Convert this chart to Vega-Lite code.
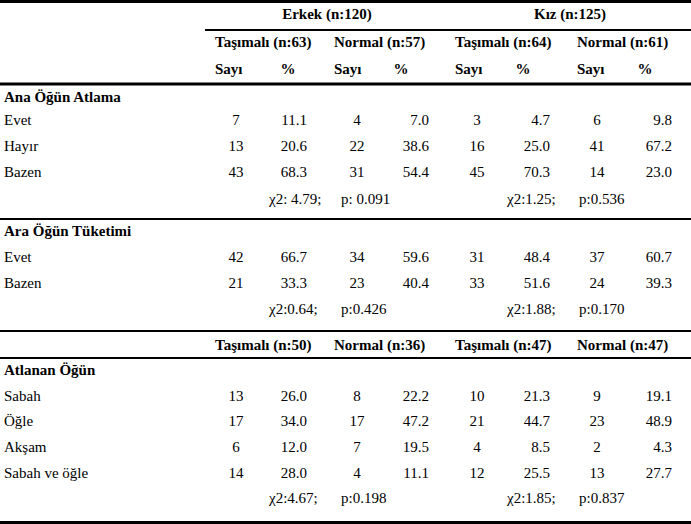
{
  "$schema": "https://vega.github.io/schema/vega-lite/v6.json",
  "width": 691,
  "height": 524,
  "padding": 0,
  "autosize": {"type": "none"},
  "config": {"view": {"stroke": null}, "font": "Liberation Serif", "text": {"font": "Liberation Serif", "fontSize": 15, "color": "#000000", "baseline": "middle"}},
  "datasets": {
    "cells": [
      {"r": 0, "kind": "group", "c": 1, "t": "Erkek (n:120)"},
      {"r": 0, "kind": "group", "c": 2, "t": "Kız (n:125)"},
      {"r": 1, "kind": "sub", "c": 1, "t": "Taşımalı (n:63)"},
      {"r": 1, "kind": "sub", "c": 2, "t": "Normal (n:57)"},
      {"r": 1, "kind": "sub", "c": 3, "t": "Taşımalı (n:64)"},
      {"r": 1, "kind": "sub", "c": 4, "t": "Normal (n:61)"},
      {"r": 2, "kind": "sub", "c": 1, "t": "Sayı"},
      {"r": 2, "kind": "sub", "c": 2, "t": "Sayı"},
      {"r": 2, "kind": "sub", "c": 3, "t": "Sayı"},
      {"r": 2, "kind": "sub", "c": 4, "t": "Sayı"},
      {"r": 2, "kind": "pcthead", "c": 1, "t": "%"},
      {"r": 2, "kind": "pcthead", "c": 2, "t": "%"},
      {"r": 2, "kind": "pcthead", "c": 3, "t": "%"},
      {"r": 2, "kind": "pcthead", "c": 4, "t": "%"},
      {"r": 3, "kind": "section", "c": 0, "t": "Ana Öğün Atlama"},
      {"r": 4, "kind": "label", "c": 0, "t": "Evet"},
      {"r": 4, "kind": "n", "c": 1, "v": 7},
      {"r": 4, "kind": "p", "c": 1, "v": 11.1},
      {"r": 4, "kind": "n", "c": 2, "v": 4},
      {"r": 4, "kind": "p", "c": 2, "v": 7.0},
      {"r": 4, "kind": "n", "c": 3, "v": 3},
      {"r": 4, "kind": "p", "c": 3, "v": 4.7},
      {"r": 4, "kind": "n", "c": 4, "v": 6},
      {"r": 4, "kind": "p", "c": 4, "v": 9.8},
      {"r": 5, "kind": "label", "c": 0, "t": "Hayır"},
      {"r": 5, "kind": "n", "c": 1, "v": 13},
      {"r": 5, "kind": "p", "c": 1, "v": 20.6},
      {"r": 5, "kind": "n", "c": 2, "v": 22},
      {"r": 5, "kind": "p", "c": 2, "v": 38.6},
      {"r": 5, "kind": "n", "c": 3, "v": 16},
      {"r": 5, "kind": "p", "c": 3, "v": 25.0},
      {"r": 5, "kind": "n", "c": 4, "v": 41},
      {"r": 5, "kind": "p", "c": 4, "v": 67.2},
      {"r": 6, "kind": "label", "c": 0, "t": "Bazen"},
      {"r": 6, "kind": "n", "c": 1, "v": 43},
      {"r": 6, "kind": "p", "c": 1, "v": 68.3},
      {"r": 6, "kind": "n", "c": 2, "v": 31},
      {"r": 6, "kind": "p", "c": 2, "v": 54.4},
      {"r": 6, "kind": "n", "c": 3, "v": 45},
      {"r": 6, "kind": "p", "c": 3, "v": 70.3},
      {"r": 6, "kind": "n", "c": 4, "v": 14},
      {"r": 6, "kind": "p", "c": 4, "v": 23.0},
      {"r": 7, "kind": "chi", "c": 1, "t": "χ2: 4.79;"},
      {"r": 7, "kind": "chi", "c": 2, "t": "p: 0.091"},
      {"r": 7, "kind": "chi", "c": 3, "t": "χ2:1.25;"},
      {"r": 7, "kind": "chi", "c": 4, "t": "p:0.536"},
      {"r": 8, "kind": "section", "c": 0, "t": "Ara Öğün Tüketimi"},
      {"r": 9, "kind": "label", "c": 0, "t": "Evet"},
      {"r": 9, "kind": "n", "c": 1, "v": 42},
      {"r": 9, "kind": "p", "c": 1, "v": 66.7},
      {"r": 9, "kind": "n", "c": 2, "v": 34},
      {"r": 9, "kind": "p", "c": 2, "v": 59.6},
      {"r": 9, "kind": "n", "c": 3, "v": 31},
      {"r": 9, "kind": "p", "c": 3, "v": 48.4},
      {"r": 9, "kind": "n", "c": 4, "v": 37},
      {"r": 9, "kind": "p", "c": 4, "v": 60.7},
      {"r": 10, "kind": "label", "c": 0, "t": "Bazen"},
      {"r": 10, "kind": "n", "c": 1, "v": 21},
      {"r": 10, "kind": "p", "c": 1, "v": 33.3},
      {"r": 10, "kind": "n", "c": 2, "v": 23},
      {"r": 10, "kind": "p", "c": 2, "v": 40.4},
      {"r": 10, "kind": "n", "c": 3, "v": 33},
      {"r": 10, "kind": "p", "c": 3, "v": 51.6},
      {"r": 10, "kind": "n", "c": 4, "v": 24},
      {"r": 10, "kind": "p", "c": 4, "v": 39.3},
      {"r": 11, "kind": "chi", "c": 1, "t": "χ2:0.64;"},
      {"r": 11, "kind": "chi", "c": 2, "t": "p:0.426"},
      {"r": 11, "kind": "chi", "c": 3, "t": "χ2:1.88;"},
      {"r": 11, "kind": "chi", "c": 4, "t": "p:0.170"},
      {"r": 12, "kind": "sub", "c": 1, "t": "Taşımalı (n:50)"},
      {"r": 12, "kind": "sub", "c": 2, "t": "Normal (n:36)"},
      {"r": 12, "kind": "sub", "c": 3, "t": "Taşımalı (n:47)"},
      {"r": 12, "kind": "sub", "c": 4, "t": "Normal (n:47)"},
      {"r": 13, "kind": "section", "c": 0, "t": "Atlanan Öğün"},
      {"r": 14, "kind": "label", "c": 0, "t": "Sabah"},
      {"r": 14, "kind": "n", "c": 1, "v": 13},
      {"r": 14, "kind": "p", "c": 1, "v": 26.0},
      {"r": 14, "kind": "n", "c": 2, "v": 8},
      {"r": 14, "kind": "p", "c": 2, "v": 22.2},
      {"r": 14, "kind": "n", "c": 3, "v": 10},
      {"r": 14, "kind": "p", "c": 3, "v": 21.3},
      {"r": 14, "kind": "n", "c": 4, "v": 9},
      {"r": 14, "kind": "p", "c": 4, "v": 19.1},
      {"r": 15, "kind": "label", "c": 0, "t": "Öğle"},
      {"r": 15, "kind": "n", "c": 1, "v": 17},
      {"r": 15, "kind": "p", "c": 1, "v": 34.0},
      {"r": 15, "kind": "n", "c": 2, "v": 17},
      {"r": 15, "kind": "p", "c": 2, "v": 47.2},
      {"r": 15, "kind": "n", "c": 3, "v": 21},
      {"r": 15, "kind": "p", "c": 3, "v": 44.7},
      {"r": 15, "kind": "n", "c": 4, "v": 23},
      {"r": 15, "kind": "p", "c": 4, "v": 48.9},
      {"r": 16, "kind": "label", "c": 0, "t": "Akşam"},
      {"r": 16, "kind": "n", "c": 1, "v": 6},
      {"r": 16, "kind": "p", "c": 1, "v": 12.0},
      {"r": 16, "kind": "n", "c": 2, "v": 7},
      {"r": 16, "kind": "p", "c": 2, "v": 19.5},
      {"r": 16, "kind": "n", "c": 3, "v": 4},
      {"r": 16, "kind": "p", "c": 3, "v": 8.5},
      {"r": 16, "kind": "n", "c": 4, "v": 2},
      {"r": 16, "kind": "p", "c": 4, "v": 4.3},
      {"r": 17, "kind": "label", "c": 0, "t": "Sabah ve öğle"},
      {"r": 17, "kind": "n", "c": 1, "v": 14},
      {"r": 17, "kind": "p", "c": 1, "v": 28.0},
      {"r": 17, "kind": "n", "c": 2, "v": 4},
      {"r": 17, "kind": "p", "c": 2, "v": 11.1},
      {"r": 17, "kind": "n", "c": 3, "v": 12},
      {"r": 17, "kind": "p", "c": 3, "v": 25.5},
      {"r": 17, "kind": "n", "c": 4, "v": 13},
      {"r": 17, "kind": "p", "c": 4, "v": 27.7},
      {"r": 18, "kind": "chi", "c": 1, "t": "χ2:4.67;"},
      {"r": 18, "kind": "chi", "c": 2, "t": "p:0.198"},
      {"r": 18, "kind": "chi", "c": 3, "t": "χ2:1.85;"},
      {"r": 18, "kind": "chi", "c": 4, "t": "p:0.837"}
    ],
    "rules": [
      {"line": 0, "from": 0, "to": 2, "weight": "heavy"},
      {"line": 1, "from": 1, "to": 2, "weight": "light"},
      {"line": 2, "from": 0, "to": 2, "weight": "heavy"},
      {"line": 3, "from": 0, "to": 2, "weight": "light"},
      {"line": 4, "from": 0, "to": 2, "weight": "light"},
      {"line": 5, "from": 0, "to": 2, "weight": "light"},
      {"line": 6, "from": 0, "to": 2, "weight": "heavy"}
    ]
  },
  "resolve": {"scale": {"x": "independent", "y": "independent"}},
  "layer": [
    {
      "data": {"name": "rules"},
      "transform": [{"filter": "datum.weight === 'heavy'"}],
      "mark": {"type": "rule", "color": "#000000", "strokeWidth": 3},
      "encoding": {
        "x": {"field": "from", "type": "quantitative", "scale": {"domain": [0, 1, 2], "range": [0, 205, 691], "nice": false, "zero": false}, "axis": null},
        "x2": {"field": "to"},
        "y": {"field": "line", "type": "quantitative", "scale": {"domain": [0, 1, 2, 3, 4, 5, 6], "range": [1.5, 30, 84, 219, 331, 358, 522.5], "nice": false, "zero": false}, "axis": null}
      }
    },
    {
      "data": {"name": "rules"},
      "transform": [{"filter": "datum.weight === 'light'"}],
      "mark": {"type": "rule", "color": "#000000", "strokeWidth": 2},
      "encoding": {
        "x": {"field": "from", "type": "quantitative", "scale": {"domain": [0, 1, 2], "range": [0, 205, 691], "nice": false, "zero": false}, "axis": null},
        "x2": {"field": "to"},
        "y": {"field": "line", "type": "quantitative", "scale": {"domain": [0, 1, 2, 3, 4, 5, 6], "range": [1.5, 30, 84, 219, 331, 358, 522.5], "nice": false, "zero": false}, "axis": null}
      }
    },
    {
      "data": {"name": "cells"},
      "transform": [{"filter": "datum.kind === 'group'"}],
      "mark": {"type": "text", "align": "center", "baseline": "middle", "font": "Liberation Serif", "fontSize": 15, "fontWeight": "bold", "color": "#000000"},
      "encoding": {
        "x": {"field": "c", "type": "quantitative", "scale": {"domain": [1, 2], "range": [327, 570], "nice": false, "zero": false}, "axis": null},
        "y": {"field": "r", "type": "quantitative", "scale": {"domain": [0,1,2,3,4,5,6,7,8,9,10,11,12,13,14,15,16,17,18], "range": [14,42,69,97,120,146,172,199,231,257,283,309,345,370,396,421,447,473,498], "nice": false, "zero": false}, "axis": null},
        "text": {"field": "t", "type": "nominal"}
      }
    },
    {
      "data": {"name": "cells"},
      "transform": [{"filter": "datum.kind === 'sub'"}],
      "mark": {"type": "text", "align": "left", "baseline": "middle", "font": "Liberation Serif", "fontSize": 15, "fontWeight": "bold", "color": "#000000"},
      "encoding": {
        "x": {"field": "c", "type": "quantitative", "scale": {"domain": [1, 2, 3, 4], "range": [215, 334, 455, 577], "nice": false, "zero": false}, "axis": null},
        "y": {"field": "r", "type": "quantitative", "scale": {"domain": [0,1,2,3,4,5,6,7,8,9,10,11,12,13,14,15,16,17,18], "range": [14,42,69,97,120,146,172,199,231,257,283,309,345,370,396,421,447,473,498], "nice": false, "zero": false}, "axis": null},
        "text": {"field": "t", "type": "nominal"}
      }
    },
    {
      "data": {"name": "cells"},
      "transform": [{"filter": "datum.kind === 'pcthead'"}],
      "mark": {"type": "text", "align": "center", "baseline": "middle", "font": "Liberation Serif", "fontSize": 15, "fontWeight": "bold", "color": "#000000"},
      "encoding": {
        "x": {"field": "c", "type": "quantitative", "scale": {"domain": [1, 2, 3, 4], "range": [288, 401, 523, 645], "nice": false, "zero": false}, "axis": null},
        "y": {"field": "r", "type": "quantitative", "scale": {"domain": [0,1,2,3,4,5,6,7,8,9,10,11,12,13,14,15,16,17,18], "range": [14,42,69,97,120,146,172,199,231,257,283,309,345,370,396,421,447,473,498], "nice": false, "zero": false}, "axis": null},
        "text": {"field": "t", "type": "nominal"}
      }
    },
    {
      "data": {"name": "cells"},
      "transform": [{"filter": "datum.kind === 'section'"}],
      "mark": {"type": "text", "align": "left", "baseline": "middle", "font": "Liberation Serif", "fontSize": 15, "fontWeight": "bold", "color": "#000000"},
      "encoding": {
        "x": {"field": "c", "type": "quantitative", "scale": {"domain": [0, 1], "range": [4, 5], "nice": false, "zero": false}, "axis": null},
        "y": {"field": "r", "type": "quantitative", "scale": {"domain": [0,1,2,3,4,5,6,7,8,9,10,11,12,13,14,15,16,17,18], "range": [14,42,69,97,120,146,172,199,231,257,283,309,345,370,396,421,447,473,498], "nice": false, "zero": false}, "axis": null},
        "text": {"field": "t", "type": "nominal"}
      }
    },
    {
      "data": {"name": "cells"},
      "transform": [{"filter": "datum.kind === 'label'"}],
      "mark": {"type": "text", "align": "left", "baseline": "middle", "font": "Liberation Serif", "fontSize": 15, "color": "#000000"},
      "encoding": {
        "x": {"field": "c", "type": "quantitative", "scale": {"domain": [0, 1], "range": [4, 5], "nice": false, "zero": false}, "axis": null},
        "y": {"field": "r", "type": "quantitative", "scale": {"domain": [0,1,2,3,4,5,6,7,8,9,10,11,12,13,14,15,16,17,18], "range": [14,42,69,97,120,146,172,199,231,257,283,309,345,370,396,421,447,473,498], "nice": false, "zero": false}, "axis": null},
        "text": {"field": "t", "type": "nominal"}
      }
    },
    {
      "data": {"name": "cells"},
      "transform": [{"filter": "datum.kind === 'n'"}],
      "mark": {"type": "text", "align": "center", "baseline": "middle", "font": "Liberation Serif", "fontSize": 15, "color": "#000000"},
      "encoding": {
        "x": {"field": "c", "type": "quantitative", "scale": {"domain": [1, 2, 3, 4], "range": [236, 357, 477, 597], "nice": false, "zero": false}, "axis": null},
        "y": {"field": "r", "type": "quantitative", "scale": {"domain": [0,1,2,3,4,5,6,7,8,9,10,11,12,13,14,15,16,17,18], "range": [14,42,69,97,120,146,172,199,231,257,283,309,345,370,396,421,447,473,498], "nice": false, "zero": false}, "axis": null},
        "text": {"field": "v", "type": "quantitative", "format": "d"}
      }
    },
    {
      "data": {"name": "cells"},
      "transform": [{"filter": "datum.kind === 'p'"}],
      "mark": {"type": "text", "align": "right", "baseline": "middle", "font": "Liberation Serif", "fontSize": 15, "color": "#000000"},
      "encoding": {
        "x": {"field": "c", "type": "quantitative", "scale": {"domain": [1, 2, 3, 4], "range": [307, 429, 550, 672], "nice": false, "zero": false}, "axis": null},
        "y": {"field": "r", "type": "quantitative", "scale": {"domain": [0,1,2,3,4,5,6,7,8,9,10,11,12,13,14,15,16,17,18], "range": [14,42,69,97,120,146,172,199,231,257,283,309,345,370,396,421,447,473,498], "nice": false, "zero": false}, "axis": null},
        "text": {"field": "v", "type": "quantitative", "format": ".1f"}
      }
    },
    {
      "data": {"name": "cells"},
      "transform": [{"filter": "datum.kind === 'chi'"}],
      "mark": {"type": "text", "align": "left", "baseline": "middle", "font": "Liberation Serif", "fontSize": 15, "color": "#000000"},
      "encoding": {
        "x": {"field": "c", "type": "quantitative", "scale": {"domain": [1, 2, 3, 4], "range": [269, 341, 507, 579], "nice": false, "zero": false}, "axis": null},
        "y": {"field": "r", "type": "quantitative", "scale": {"domain": [0,1,2,3,4,5,6,7,8,9,10,11,12,13,14,15,16,17,18], "range": [14,42,69,97,120,146,172,199,231,257,283,309,345,370,396,421,447,473,498], "nice": false, "zero": false}, "axis": null},
        "text": {"field": "t", "type": "nominal"}
      }
    }
  ]
}
